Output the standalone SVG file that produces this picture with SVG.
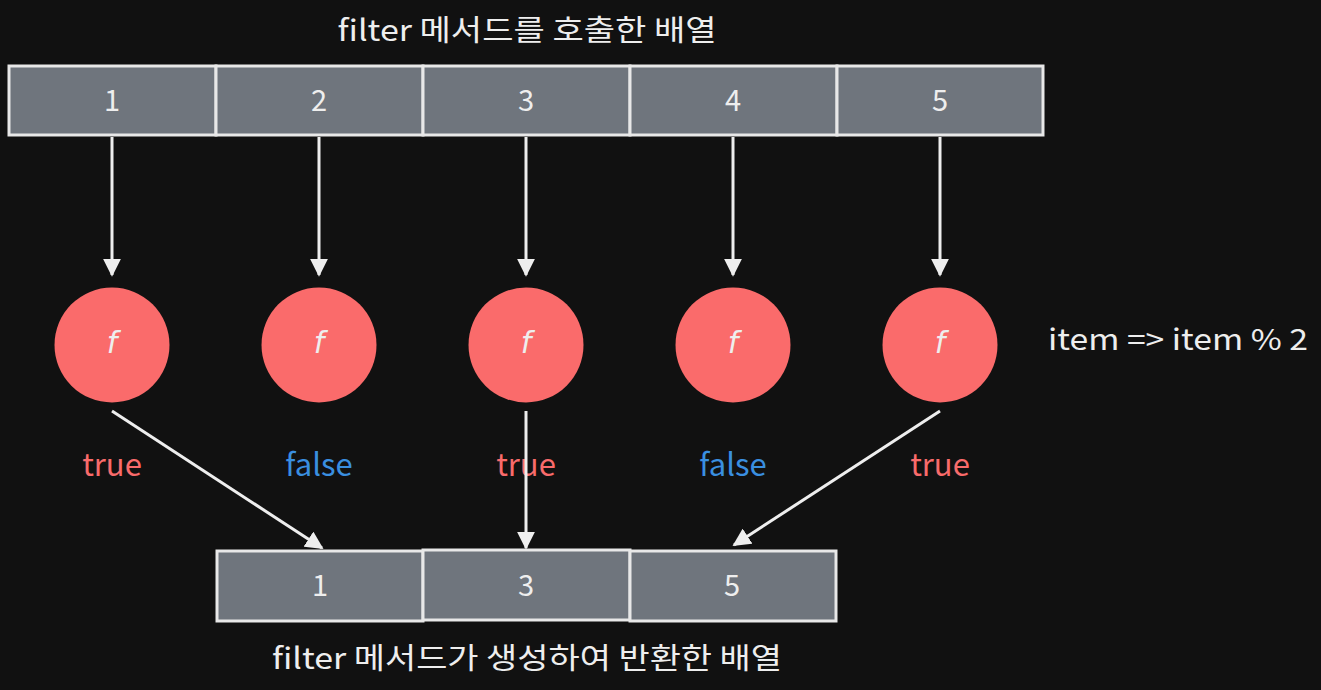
<svg xmlns="http://www.w3.org/2000/svg" width="1321" height="690" viewBox="0 0 1321 690">
<defs>
<style>
text{font-family:"Noto Sans CJK KR","Noto Sans",sans-serif;fill:#eeeeee;text-anchor:middle;dominant-baseline:central}
.cell{fill:#6f757d;stroke:#e8e8e8;stroke-width:3}
.num{font-size:29px}
.fn{fill:#fa6b6b}
.f{font-size:30px;font-family:"DejaVu Sans",sans-serif;font-style:italic}
.t{fill:#f96b6b;font-size:31px}
.fa{fill:#3a8fe0;font-size:31px}
.lbl{font-size:29px}
.conn{stroke:#eeeeee;stroke-width:3;fill:none;marker-end:url(#ah)}
</style>
<marker id="ah" viewBox="0 0 10 10" refX="9" refY="5" markerWidth="6" markerHeight="6" markerUnits="strokeWidth" orient="auto">
<path d="M0,0 L10,5 L0,10 z" fill="#eeeeee"/>
</marker>
</defs>
<rect width="1321" height="690" fill="#111111"/>
<text class="lbl" x="527" y="28" textLength="379" lengthAdjust="spacingAndGlyphs">filter 메서드를 호출한 배열</text>
<g id="top-array">
<rect class="cell" x="9" y="66" width="207" height="69"/>
<rect class="cell" x="216" y="66" width="207" height="69"/>
<rect class="cell" x="423" y="66" width="207" height="69"/>
<rect class="cell" x="630" y="66" width="207" height="69"/>
<rect class="cell" x="837" y="66" width="206" height="69"/>
<text class="num" x="112" y="98">1</text>
<text class="num" x="319" y="98">2</text>
<text class="num" x="526" y="98">3</text>
<text class="num" x="733" y="98">4</text>
<text class="num" x="940" y="98">5</text>
</g>
<g id="fn1"><circle class="fn" cx="112" cy="345" r="57.5"/><text class="f" x="112" y="342">f</text></g>
<g id="fn2"><circle class="fn" cx="319" cy="345" r="57.5"/><text class="f" x="319" y="342">f</text></g>
<g id="fn3"><circle class="fn" cx="526" cy="345" r="57.5"/><text class="f" x="526" y="342">f</text></g>
<g id="fn4"><circle class="fn" cx="733" cy="345" r="57.5"/><text class="f" x="733" y="342">f</text></g>
<g id="fn5"><circle class="fn" cx="940" cy="345" r="57.5"/><text class="f" x="940" y="342">f</text></g>
<text class="lbl" x="1178" y="337" textLength="260" lengthAdjust="spacingAndGlyphs">item =&gt; item % 2</text>
<g id="labels">
<text class="t" x="112" y="462">true</text>
<text class="fa" x="319" y="462">false</text>
<text class="t" x="526" y="462">true</text>
<text class="fa" x="733" y="462">false</text>
<text class="t" x="940" y="462">true</text>
</g>
<g id="bottom-array">
<rect class="cell" x="217" y="551" width="206" height="70"/>
<rect class="cell" x="423" y="550" width="207" height="70"/>
<rect class="cell" x="630" y="551" width="206" height="70"/>
<text class="num" x="320" y="583">1</text>
<text class="num" x="526" y="583">3</text>
<text class="num" x="732" y="583">5</text>
</g>
<text class="lbl" x="527" y="656" textLength="510" lengthAdjust="spacingAndGlyphs">filter 메서드가 생성하여 반환한 배열</text>
<g id="connectors">
<path class="conn" d="M112,137 L112,275"/>
<path class="conn" d="M319,137 L319,275"/>
<path class="conn" d="M526,137 L526,275"/>
<path class="conn" d="M733,137 L733,275"/>
<path class="conn" d="M940,137 L940,275"/>
<path class="conn" d="M112,411 L322,548"/>
<path class="conn" d="M526,411 L526,548"/>
<path class="conn" d="M940,411 L734,545"/>
</g>
</svg>
